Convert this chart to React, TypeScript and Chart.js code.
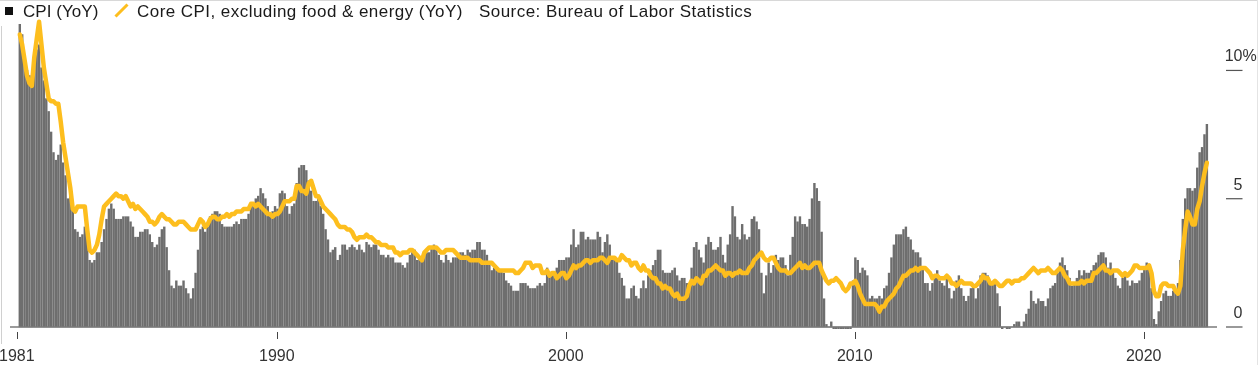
import React, { useEffect, useRef } from "react";
import { Chart, registerables } from "chart.js";

Chart.register(...registerables);

// Monthly series, January 1981 .. February 2022 (one row per year)
const START_YEAR = 1981;

const cpiYoY: number[] = [
  11.8, 11.4, 10.5, 10.0, 9.8, 9.6, 10.8, 10.8, 11.0, 10.1, 9.6, 8.9, // 1981
  8.4, 7.6, 6.8, 6.5, 6.7, 7.1, 6.4, 5.9, 5.0, 5.1, 4.6, 3.8, // 1982
  3.7, 3.5, 3.6, 3.9, 3.5, 2.6, 2.5, 2.6, 2.9, 2.9, 3.3, 3.8, // 1983
  4.2, 4.6, 4.8, 4.6, 4.2, 4.2, 4.2, 4.3, 4.3, 4.3, 4.1, 3.9, // 1984
  3.5, 3.5, 3.7, 3.7, 3.8, 3.8, 3.6, 3.3, 3.1, 3.2, 3.5, 3.8, // 1985
  3.9, 3.1, 2.2, 1.6, 1.5, 1.8, 1.6, 1.6, 1.8, 1.5, 1.3, 1.1, // 1986
  1.5, 2.1, 3.0, 3.8, 3.9, 3.7, 3.9, 4.3, 4.4, 4.5, 4.5, 4.4, // 1987
  4.0, 3.9, 3.9, 3.9, 3.9, 4.0, 4.1, 4.0, 4.2, 4.2, 4.2, 4.4, // 1988
  4.7, 4.8, 5.0, 5.1, 5.4, 5.2, 5.0, 4.7, 4.3, 4.5, 4.7, 4.6, // 1989
  5.2, 5.3, 5.2, 4.7, 4.4, 4.7, 4.8, 5.6, 6.2, 6.3, 6.3, 6.1, // 1990
  5.7, 5.3, 4.9, 4.9, 5.0, 4.7, 4.4, 3.8, 3.4, 2.9, 3.0, 3.1, // 1991
  2.6, 2.8, 3.2, 3.2, 3.0, 3.1, 3.2, 3.1, 3.0, 3.2, 3.0, 2.9, // 1992
  3.3, 3.2, 3.1, 3.2, 3.2, 3.0, 2.8, 2.8, 2.7, 2.8, 2.7, 2.7, // 1993
  2.5, 2.5, 2.5, 2.4, 2.3, 2.5, 2.8, 2.9, 3.0, 2.6, 2.7, 2.7, // 1994
  2.8, 2.9, 2.9, 3.1, 3.2, 3.0, 2.8, 2.6, 2.5, 2.8, 2.6, 2.5, // 1995
  2.7, 2.7, 2.8, 2.9, 2.9, 2.8, 3.0, 2.9, 3.0, 3.0, 3.3, 3.3, // 1996
  3.0, 3.0, 2.8, 2.5, 2.2, 2.3, 2.2, 2.2, 2.2, 2.1, 1.8, 1.7, // 1997
  1.6, 1.4, 1.4, 1.4, 1.7, 1.7, 1.7, 1.6, 1.5, 1.5, 1.5, 1.6, // 1998
  1.7, 1.6, 1.7, 2.3, 2.1, 2.0, 2.1, 2.3, 2.6, 2.6, 2.6, 2.7, // 1999
  2.7, 3.2, 3.8, 3.1, 3.2, 3.7, 3.7, 3.4, 3.5, 3.4, 3.4, 3.4, // 2000
  3.7, 3.5, 2.9, 3.3, 3.6, 3.2, 2.7, 2.7, 2.6, 2.1, 1.9, 1.6, // 2001
  1.1, 1.1, 1.5, 1.6, 1.2, 1.1, 1.5, 1.8, 1.5, 2.0, 2.2, 2.4, // 2002
  2.6, 3.0, 3.0, 2.2, 2.1, 2.1, 2.1, 2.2, 2.3, 2.0, 1.8, 1.9, // 2003
  1.9, 1.7, 1.7, 2.3, 3.1, 3.3, 3.0, 2.7, 2.5, 3.2, 3.5, 3.3, // 2004
  3.0, 3.0, 3.1, 3.5, 2.8, 2.5, 3.2, 3.6, 4.7, 4.3, 3.5, 3.4, // 2005
  4.0, 3.6, 3.4, 3.5, 4.2, 4.3, 4.1, 3.8, 2.1, 1.3, 2.0, 2.5, // 2006
  2.1, 2.4, 2.8, 2.6, 2.7, 2.7, 2.4, 2.0, 2.8, 3.5, 4.3, 4.1, // 2007
  4.3, 4.0, 4.0, 3.9, 4.2, 5.0, 5.6, 5.4, 4.9, 3.7, 1.1, 0.1, // 2008
  0.0, 0.2, -0.4, -0.7, -1.3, -1.4, -2.1, -1.5, -1.3, -0.2, 1.8, 2.7, // 2009
  2.6, 2.1, 2.3, 2.2, 2.0, 1.1, 1.2, 1.1, 1.1, 1.2, 1.1, 1.5, // 2010
  1.6, 2.1, 2.7, 3.2, 3.6, 3.6, 3.6, 3.8, 3.9, 3.5, 3.4, 3.0, // 2011
  2.9, 2.9, 2.7, 2.3, 1.7, 1.7, 1.4, 1.7, 2.0, 2.2, 1.8, 1.7, // 2012
  1.6, 2.0, 1.5, 1.1, 1.4, 1.8, 2.0, 1.5, 1.2, 1.0, 1.2, 1.5, // 2013
  1.6, 1.1, 1.5, 2.0, 2.1, 2.1, 2.0, 1.7, 1.7, 1.7, 1.3, 0.8, // 2014
  -0.1, 0.0, -0.1, -0.2, 0.0, 0.1, 0.2, 0.2, 0.0, 0.2, 0.5, 0.7, // 2015
  1.4, 1.0, 0.9, 1.1, 1.0, 1.0, 0.8, 1.1, 1.5, 1.6, 1.7, 2.1, // 2016
  2.5, 2.7, 2.4, 2.2, 1.9, 1.6, 1.7, 1.9, 2.2, 2.0, 2.2, 2.1, // 2017
  2.1, 2.2, 2.4, 2.5, 2.8, 2.9, 2.9, 2.7, 2.3, 2.5, 2.2, 1.9, // 2018
  1.6, 1.5, 1.9, 2.0, 1.8, 1.6, 1.8, 1.7, 1.7, 1.8, 2.1, 2.3, // 2019
  2.5, 2.3, 1.5, 0.3, 0.1, 0.6, 1.0, 1.3, 1.4, 1.2, 1.2, 1.4, // 2020
  1.4, 1.7, 2.6, 4.2, 5.0, 5.4, 5.4, 5.3, 5.4, 6.2, 6.8, 7.0, // 2021
  7.5, 7.9, // 2022
];

const coreYoY: number[] = [
  11.4, 11.0, 10.4, 9.8, 9.5, 9.4, 10.5, 11.2, 11.9, 11.0, 10.1, 9.5, // 1981
  8.9, 8.8, 8.8, 8.7, 8.7, 8.0, 7.2, 6.6, 6.0, 5.4, 4.6, 4.5, // 1982
  4.7, 4.7, 4.7, 4.7, 3.8, 3.0, 2.9, 3.0, 3.2, 3.6, 4.2, 4.7, // 1983
  4.8, 4.9, 5.0, 5.1, 5.2, 5.1, 5.1, 5.0, 5.1, 4.9, 4.7, 4.8, // 1984
  4.6, 4.7, 4.6, 4.5, 4.4, 4.3, 4.1, 4.1, 4.0, 4.1, 4.3, 4.4, // 1985
  4.3, 4.2, 4.2, 4.1, 4.0, 4.0, 4.1, 4.1, 4.1, 4.0, 3.9, 3.8, // 1986
  3.8, 3.8, 4.0, 4.2, 4.1, 3.9, 4.0, 4.2, 4.3, 4.3, 4.2, 4.2, // 1987
  4.3, 4.3, 4.4, 4.3, 4.4, 4.4, 4.5, 4.5, 4.5, 4.6, 4.6, 4.6, // 1988
  4.8, 4.8, 4.7, 4.8, 4.7, 4.6, 4.5, 4.4, 4.4, 4.3, 4.4, 4.4, // 1989
  4.5, 4.7, 4.9, 4.9, 4.9, 5.0, 5.0, 5.5, 5.5, 5.3, 5.3, 5.2, // 1990
  5.6, 5.7, 5.4, 5.1, 5.1, 4.9, 4.7, 4.6, 4.5, 4.4, 4.3, 4.2, // 1991
  4.0, 3.9, 3.9, 3.9, 3.8, 3.8, 3.7, 3.5, 3.4, 3.5, 3.5, 3.5, // 1992
  3.6, 3.5, 3.5, 3.4, 3.3, 3.3, 3.2, 3.2, 3.2, 3.1, 3.1, 3.1, // 1993
  2.9, 2.9, 2.8, 2.9, 2.9, 2.9, 3.0, 3.0, 2.9, 2.8, 2.7, 2.6, // 1994
  2.9, 3.0, 3.1, 3.1, 3.1, 3.1, 3.0, 2.9, 2.9, 3.0, 3.0, 3.0, // 1995
  3.0, 2.9, 2.8, 2.7, 2.7, 2.7, 2.7, 2.6, 2.6, 2.6, 2.6, 2.6, // 1996
  2.5, 2.5, 2.5, 2.5, 2.5, 2.4, 2.3, 2.2, 2.2, 2.2, 2.2, 2.2, // 1997
  2.2, 2.2, 2.1, 2.1, 2.2, 2.3, 2.5, 2.5, 2.5, 2.3, 2.4, 2.4, // 1998
  2.4, 2.1, 2.1, 2.2, 2.0, 2.1, 2.1, 1.9, 2.0, 2.1, 2.1, 1.9, // 1999
  2.0, 2.2, 2.4, 2.3, 2.4, 2.4, 2.5, 2.6, 2.6, 2.5, 2.6, 2.6, // 2000
  2.6, 2.7, 2.7, 2.6, 2.5, 2.7, 2.7, 2.7, 2.6, 2.6, 2.8, 2.7, // 2001
  2.6, 2.6, 2.4, 2.5, 2.5, 2.3, 2.2, 2.4, 2.2, 2.2, 2.0, 1.9, // 2002
  1.9, 1.7, 1.7, 1.5, 1.6, 1.5, 1.5, 1.3, 1.2, 1.3, 1.1, 1.1, // 2003
  1.1, 1.2, 1.6, 1.8, 1.7, 1.9, 1.8, 1.7, 2.0, 2.0, 2.2, 2.2, // 2004
  2.3, 2.4, 2.3, 2.2, 2.2, 2.0, 2.1, 2.1, 2.0, 2.1, 2.1, 2.2, // 2005
  2.1, 2.1, 2.1, 2.3, 2.4, 2.6, 2.7, 2.8, 2.9, 2.7, 2.6, 2.6, // 2006
  2.7, 2.7, 2.5, 2.3, 2.2, 2.2, 2.2, 2.1, 2.1, 2.2, 2.3, 2.4, // 2007
  2.5, 2.3, 2.4, 2.3, 2.3, 2.4, 2.5, 2.5, 2.5, 2.2, 2.0, 1.8, // 2008
  1.7, 1.8, 1.8, 1.9, 1.8, 1.7, 1.5, 1.4, 1.5, 1.7, 1.7, 1.8, // 2009
  1.6, 1.3, 1.1, 0.9, 0.9, 0.9, 0.9, 0.9, 0.8, 0.6, 0.8, 0.8, // 2010
  1.0, 1.1, 1.2, 1.3, 1.5, 1.6, 1.8, 2.0, 2.0, 2.1, 2.2, 2.2, // 2011
  2.3, 2.2, 2.3, 2.3, 2.3, 2.2, 2.1, 1.9, 2.0, 2.0, 1.9, 1.9, // 2012
  1.9, 2.0, 1.9, 1.7, 1.7, 1.6, 1.7, 1.8, 1.7, 1.7, 1.7, 1.7, // 2013
  1.6, 1.6, 1.7, 1.8, 2.0, 1.9, 1.9, 1.7, 1.7, 1.8, 1.7, 1.6, // 2014
  1.6, 1.7, 1.8, 1.8, 1.7, 1.8, 1.8, 1.8, 1.9, 1.9, 2.0, 2.1, // 2015
  2.2, 2.3, 2.2, 2.1, 2.2, 2.2, 2.2, 2.3, 2.2, 2.1, 2.1, 2.2, // 2016
  2.3, 2.2, 2.0, 1.9, 1.7, 1.7, 1.7, 1.7, 1.7, 1.8, 1.7, 1.8, // 2017
  1.8, 1.8, 2.1, 2.1, 2.2, 2.3, 2.4, 2.2, 2.2, 2.1, 2.2, 2.2, // 2018
  2.2, 2.1, 2.0, 2.1, 2.0, 2.1, 2.2, 2.4, 2.4, 2.3, 2.3, 2.3, // 2019
  2.3, 2.4, 2.1, 1.4, 1.2, 1.2, 1.6, 1.7, 1.7, 1.6, 1.6, 1.6, // 2020
  1.4, 1.3, 1.6, 3.0, 3.8, 4.5, 4.3, 4.0, 4.0, 4.6, 4.9, 5.5, // 2021
  6.0, 6.4, // 2022
];

const xTickYears = [1981, 1990, 2000, 2010, 2020];
const xTickLabels = ["1981", "1990", "2000", "2010", "2020"];
const yTickValues = [0, 5, 10];
const yTickLabels = ["0", "5", "10"];

const FONT = "'Liberation Sans', Arial, Helvetica, sans-serif";
const YELLOW = "#FDBE1E";
const BAR_GRAY = "#6e6e6e";

const decorPlugin = {
  id: "decor",
  afterDatasetsDraw(chart: any) {
    const ctx = chart.ctx;
    const xs = chart.scales.x;
    const ys = chart.scales.y;
    const area = chart.chartArea;
    const y0 = ys.getPixelForValue(0);
    ctx.save();
    // zero baseline
    ctx.strokeStyle = "#7a7a7a";
    ctx.lineWidth = 1.5;
    ctx.beginPath();
    ctx.moveTo(area.left, y0);
    ctx.lineTo(area.right, y0);
    ctx.stroke();
    // x tick marks
    ctx.strokeStyle = "#444";
    ctx.lineWidth = 1;
    xs.ticks.forEach((t: any) => {
      const px = Math.round(xs.getPixelForValue(t.value)) + 0.5;
      ctx.beginPath();
      ctx.moveTo(px, y0 + 5);
      ctx.lineTo(px, y0 + 12);
      ctx.stroke();
    });
    // right value axis
    const numRight = 1242.5;
    ctx.font = `16px ${FONT}`;
    ctx.fillStyle = "#333";
    ctx.textBaseline = "alphabetic";
    yTickValues.forEach((v, i) => {
      const py = ys.getPixelForValue(v);
      ctx.strokeStyle = "#555";
      ctx.lineWidth = 1.2;
      ctx.beginPath();
      ctx.moveTo(1226, py);
      ctx.lineTo(numRight, py);
      ctx.stroke();
      ctx.textAlign = "right";
      ctx.fillText(yTickLabels[i], numRight, py - 9);
      if (i === yTickValues.length - 1) {
        ctx.textAlign = "left";
        ctx.fillText("%", numRight, py - 9);
      }
    });
    ctx.restore();
  },
};

export default function App() {
  const canvasRef = useRef<HTMLCanvasElement | null>(null);

  useEffect(() => {
    document.body.style.margin = "0";
    const canvas = canvasRef.current;
    if (!canvas) return;
    const barData = cpiYoY.map((v, i) => ({ x: i, y: v }));
    const lineData = coreYoY.map((v, i) => ({ x: i, y: v }));
    const chart = new Chart(canvas, {
      type: "bar",
      data: {
        datasets: [
          {
            type: "line",
            label: "Core CPI, excluding food & energy (YoY)",
            data: lineData,
            borderColor: YELLOW,
            borderWidth: 4.5,
            pointRadius: 0,
            tension: 0,
            borderJoinStyle: "round",
            borderCapStyle: "round",
            order: 0,
          } as any,
          {
            type: "bar",
            label: "CPI (YoY)",
            data: barData,
            backgroundColor: BAR_GRAY,
            borderWidth: 0,
            barThickness: 1.75,
            order: 1,
          } as any,
        ],
      },
      options: {
        animation: false,
        responsive: false,
        maintainAspectRatio: false,
        events: [],
        layout: { padding: { left: 10, right: 41, top: 14, bottom: 0 } },
        plugins: { legend: { display: false }, tooltip: { enabled: false } },
        scales: {
          x: {
            type: "linear",
            offset: false,
            min: -4.07,
            max: 497.2,
            afterBuildTicks: (s: any) => {
              s.ticks = xTickYears.map((yr) => ({ value: (yr - START_YEAR) * 12 - 1.25 }));
            },
            afterFit: (s: any) => {
              s.height = 36;
              s.paddingLeft = 0;
              s.paddingRight = 0;
            },
            grid: { display: false, drawTicks: false },
            border: { display: false },
            ticks: {
              autoSkip: false,
              maxRotation: 0,
              padding: 18,
              color: "#333",
              font: { family: FONT, size: 16 },
              callback: (_v: any, i: number) => xTickLabels[i],
            },
          } as any,
          y: { display: false, min: -0.078, max: 12.2 },
        },
      },
      plugins: [decorPlugin],
    });
    return () => chart.destroy();
  }, []);

  const legendText: React.CSSProperties = {
    position: "absolute",
    top: 3,
    fontFamily: FONT,
    fontSize: 17,
    lineHeight: "17px",
    color: "#1a1a1a",
    whiteSpace: "nowrap",
    letterSpacing: "0.45px",
  };

  return (
    <div style={{ position: "absolute", left: 0, top: 0, width: 1258, height: 365, background: "#fff", overflow: "hidden" }}>
      <canvas ref={canvasRef} width={1258} height={365} style={{ position: "absolute", left: 0, top: 0, width: 1258, height: 365 }} />
      <div style={{ position: "absolute", left: 0, top: 0, width: 1258, height: 1, background: "#d8d8d8" }} />
      <div style={{ position: "absolute", left: 1257, top: 0, width: 1, height: 365, background: "#e4e4e4" }} />
      <div style={{ position: "absolute", left: 1, top: 26, width: 1, height: 318, background: "#d0d0d0" }} />
      <div style={{ position: "absolute", left: 5, top: 7, width: 8, height: 8, background: "#111" }} />
      <span style={{ ...legendText, left: 23, letterSpacing: "0.05px" }}>CPI (YoY)</span>
      <svg style={{ position: "absolute", left: 0, top: 0 }} width={140} height={24}>
        <line x1={115.5} y1={16.5} x2={127.5} y2={4.5} stroke={YELLOW} strokeWidth={3} />
      </svg>
      <span style={{ ...legendText, left: 137 }}>Core CPI, excluding food &amp; energy (YoY)</span>
      <span style={{ ...legendText, left: 479 }}>Source: Bureau of Labor Statistics</span>
    </div>
  );
}
